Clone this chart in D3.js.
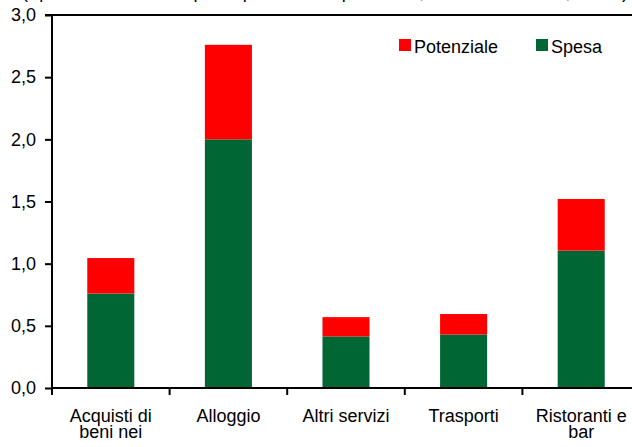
<!DOCTYPE html>
<html>
<head>
<meta charset="utf-8">
<script src="https://cdn.jsdelivr.net/npm/d3@7"></script>
<style>
  html, body { margin: 0; padding: 0; background: #fff; }
  svg { display: block; font-family: "Liberation Sans", Arial, sans-serif; }
</style>
</head>
<body>
<svg id="chart" width="632" height="447"></svg>
<script>
// ---- data ----
const categories = [
  ["Acquisti di", "beni nei"],
  ["Alloggio"],
  ["Altri servizi"],
  ["Trasporti"],
  ["Ristoranti e", "bar"]
];
const categoryKeys = ["Acquisti di beni nei", "Alloggio", "Altri servizi", "Trasporti", "Ristoranti e bar"];
const spesa      = [0.76, 2.00, 0.415, 0.43, 1.105];
const potenziale = [0.285, 0.76, 0.155, 0.165, 0.415];
const yTicks = [0, 0.5, 1.0, 1.5, 2.0, 2.5, 3.0];
const seriesNames = ["Potenziale", "Spesa"];
const seriesColors = { "Potenziale": "#ff0000", "Spesa": "#006633" };
const titleText = "(spesa turistica e spesa potenziale per voce; miliardi di euro, 2019)";

// ---- layout ----
const svg = d3.select("#chart");
const mLeft = 52, mRight = 640, mTop = 15, mBottom = 388;

const x = d3.scaleBand().domain(categoryKeys).range([mLeft, mRight])
  .paddingInner(0.6).paddingOuter(0.3);
const y = d3.scaleLinear().domain([0, 3]).range([mBottom, mTop]);

const rows = categoryKeys.map((k, i) => ({ key: k, Spesa: spesa[i], Potenziale: potenziale[i] }));
const stack = d3.stack().keys(["Spesa", "Potenziale"]);
const layers = stack(rows);

// title (cropped at top, as in the reference)
svg.append("text")
  .attr("x", 22).attr("y", -2)
  .attr("textLength", 606).attr("lengthAdjust", "spacing")
  .attr("font-size", 18).attr("fill", "#000")
  .text(titleText);

// bars
svg.append("g").selectAll("g").data(layers).join("g")
  .attr("fill", d => seriesColors[d.key])
  .selectAll("rect").data(d => d).join("rect")
  .attr("x", d => x(d.data.key))
  .attr("width", x.bandwidth())
  .attr("y", d => y(d[1]))
  .attr("height", d => y(d[0]) - y(d[1]));

// y axis
const yAxis = d3.axisLeft(y).tickValues(yTicks).tickSize(7).tickPadding(9)
  .tickFormat(d => d3.format(".1f")(d).replace(".", ","));
const gy = svg.append("g").attr("transform", `translate(${mLeft},0)`).call(yAxis);
gy.select(".domain").remove();
gy.selectAll(".tick line").attr("stroke", "#000").attr("stroke-width", 2);
gy.selectAll(".tick text").attr("font-size", 18).attr("fill", "#000")
  .attr("font-family", "Liberation Sans, Arial, sans-serif");

// axis lines
svg.append("line").attr("x1", mLeft).attr("x2", mLeft).attr("y1", y(3) - 1).attr("y2", mBottom + 7)
  .attr("stroke", "#000").attr("stroke-width", 2);
svg.append("line").attr("x1", mLeft - 7).attr("x2", 640).attr("y1", y(3)).attr("y2", y(3))
  .attr("stroke", "#000").attr("stroke-width", 2);
svg.append("line").attr("x1", mLeft).attr("x2", 640).attr("y1", y(0)).attr("y2", y(0))
  .attr("stroke", "#000").attr("stroke-width", 2);

// x ticks at band boundaries
const step = x.step();
const boundaries = categoryKeys.map(k => x(k) - step * x.paddingInner() / 2 + step);
svg.append("g").selectAll("line").data(boundaries).join("line")
  .attr("x1", d => d).attr("x2", d => d)
  .attr("y1", y(0)).attr("y2", y(0) + 7)
  .attr("stroke", "#000").attr("stroke-width", 2);

// x labels
const lbl = svg.append("g").selectAll("text").data(categories).join("text")
  .attr("text-anchor", "middle").attr("font-size", 18).attr("fill", "#000")
  .attr("transform", (d, i) => `translate(${x(categoryKeys[i]) + x.bandwidth() / 2},421.5)`);
lbl.selectAll("tspan").data(d => d).join("tspan")
  .attr("x", 0).attr("y", (d, j) => j * 16.7).text(d => d);

// legend
const legendX = [399, 536];
const lg = svg.append("g").selectAll("g").data(seriesNames).join("g")
  .attr("transform", (d, i) => `translate(${legendX[i]},39)`);
lg.append("rect").attr("width", 12).attr("height", 12).attr("fill", d => seriesColors[d]);
lg.append("text").attr("x", 15).attr("y", 14).attr("font-size", 18).attr("fill", "#000").text(d => d);
</script>
</body>
</html>
